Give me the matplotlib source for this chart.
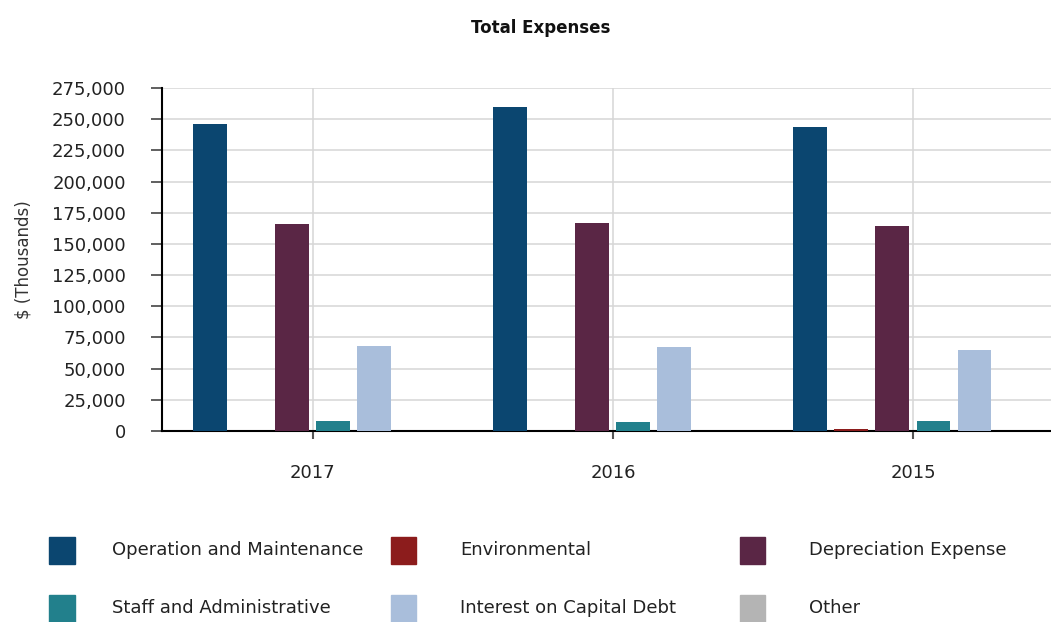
import numpy as np
import matplotlib.pyplot as plt
from matplotlib.patches import Rectangle
from matplotlib.ticker import FuncFormatter

years = ["2017", "2016", "2015"]
series = ["Operation and Maintenance", "Environmental", "Depreciation Expense",
          "Staff and Administrative", "Interest on Capital Debt", "Other"]
colors = ["#0b4670", "#8c1c1c", "#5a2645", "#22808c", "#a9bedb", "#b4b4b4"]

operation = [246000, 260000, 244000]
environmental = [300, 300, 1500]
depreciation = [166000, 167000, 164000]
staff = [8000, 7000, 8000]
interest = [68000, 67000, 65000]
other = [0, 0, 0]
values = [operation, environmental, depreciation, staff, interest, other]

fig = plt.figure(figsize=(10.51, 6.22), dpi=100)
ax = fig.add_axes([0.154, 0.307, 0.846, 0.5515])

x = np.arange(len(years))
step = 0.1367
width = 0.113
for i, vals in enumerate(values):
    ax.bar(x + (i - 2.5) * step, vals, width, color=colors[i], zorder=3)

ax.set_xlim(-0.503, 2.46)
ax.set_ylim(0, 275000)
ax.set_yticks(np.arange(0, 275001, 25000))
ax.yaxis.set_major_formatter(FuncFormatter(lambda v, p: f"{int(v):,}"))
ax.set_xticks(x)
ax.set_xticklabels(years)

ax.grid(True, color="#d6d6d6", linewidth=1.1, zorder=0)
for s in ["top", "right"]:
    ax.spines[s].set_visible(False)
ax.spines["left"].set_linewidth(1.5)
ax.spines["bottom"].set_linewidth(1.5)
ax.tick_params(axis="y", length=8, width=1.2, color="#444444", pad=18,
               labelsize=13, labelcolor="#222222")
ax.tick_params(axis="x", length=6, width=1.5, color="#555555", pad=18,
               labelsize=13, labelcolor="#222222")
ax.set_ylabel("$ (Thousands)", fontsize=12, color="#333333", labelpad=14)

fig.text(0.514, 0.955, "Total Expenses", ha="center", va="center",
         fontsize=12, fontweight="bold", color="#111111")

# legend, 3 columns x 2 rows
col_x = [0.047, 0.372, 0.704]
text_dx = [0.060, 0.066, 0.066]
row_y = [0.115, 0.022]
for i, name in enumerate(series):
    r, c = divmod(i, 3)
    fig.patches.append(Rectangle((col_x[c], row_y[r] - 0.022), 0.024, 0.044,
                                 transform=fig.transFigure, color=colors[i]))
    fig.text(col_x[c] + text_dx[c], row_y[r], name, ha="left", va="center",
             fontsize=13, color="#222222")

fig.savefig("out.png", dpi=100)
